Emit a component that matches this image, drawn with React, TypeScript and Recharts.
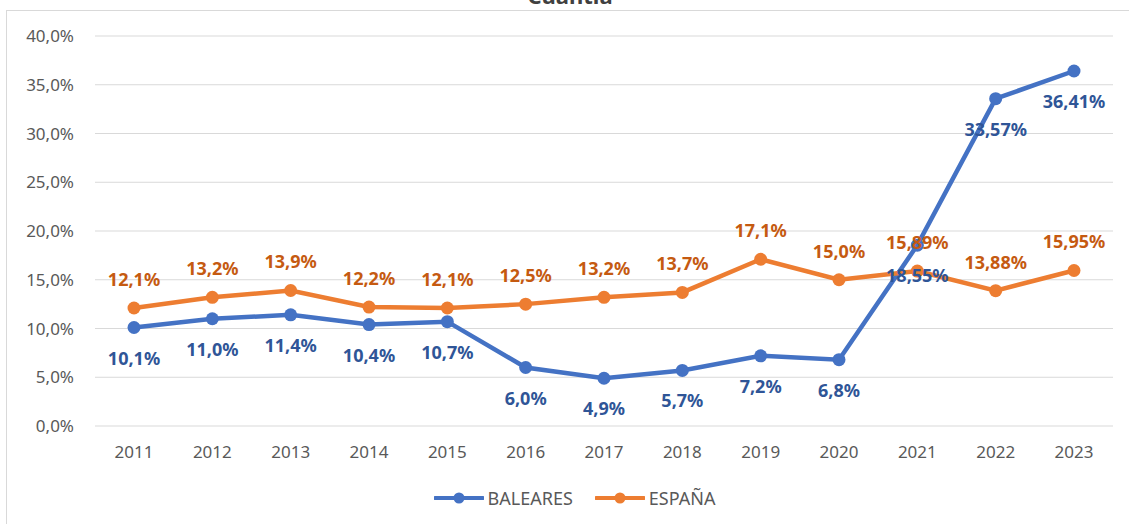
import { LineChart, Line, XAxis, YAxis, CartesianGrid, Legend, LabelList } from 'recharts';

const years = ['2011', '2012', '2013', '2014', '2015', '2016', '2017', '2018', '2019', '2020', '2021', '2022', '2023'];
const baleares = [10.1, 11.0, 11.4, 10.4, 10.7, 6.0, 4.9, 5.7, 7.2, 6.8, 18.55, 33.57, 36.41];
const espana = [12.1, 13.2, 13.9, 12.2, 12.1, 12.5, 13.2, 13.7, 17.1, 15.0, 15.89, 13.88, 15.95];
const decimals = [1, 1, 1, 1, 1, 1, 1, 1, 1, 1, 2, 2, 2];
const yTicks = [0, 5, 10, 15, 20, 25, 30, 35, 40];

const data = years.map((year, i) => ({ year, BALEARES: baleares[i], 'ESPAÑA': espana[i] }));

const BLUE = '#4472C4';
const ORANGE = '#ED7D31';
const FONT = '"Noto Sans", sans-serif';

const fmt = (v: number, d: number) => v.toFixed(d).replace('.', ',') + '%';

function makeLabel(color: string, dy: number) {
  return (props: any) => {
    const { x, y, value, index } = props;
    return (
      <text
        x={x}
        y={y + dy}
        textAnchor="middle"
        dominantBaseline="central"
        fill={color}
        fontFamily={FONT}
        fontWeight={700}
        fontSize={18}
      >
        {fmt(Number(value), decimals[index] ?? 1)}
      </text>
    );
  };
}

function LegendContent() {
  const items = [
    { name: 'BALEARES', color: BLUE },
    { name: 'ESPAÑA', color: ORANGE },
  ];
  return (
    <div style={{ height: 24, display: 'flex', justifyContent: 'center', alignItems: 'center', gap: 22, paddingLeft: 36 }}>
      {items.map((it) => (
        <div key={it.name} style={{ display: 'flex', alignItems: 'center' }}>
          <svg width={50} height={14} style={{ marginRight: 4 }}>
            <line x1={1} y1={7} x2={49} y2={7} stroke={it.color} strokeWidth={4} strokeLinecap="round" />
            <circle cx={25} cy={7} r={5.5} fill={it.color} />
          </svg>
          <span style={{ fontFamily: FONT, fontSize: 18, color: '#595959' }}>{it.name}</span>
        </div>
      ))}
    </div>
  );
}

export default function App() {
  return (
    <div style={{ position: 'absolute', left: 0, top: 0, width: 1129, height: 524, background: '#fff', overflow: 'hidden' }}>
      <svg width={1129} height={20} style={{ position: 'absolute', left: 0, top: 0 }}>
        <text x={570} y={4} textAnchor="middle" fontFamily={FONT} fontWeight={700} fontSize={22} fill="#404040">
          Cuantía
        </text>
      </svg>
      <div
        style={{
          position: 'absolute',
          left: 6,
          top: 10,
          width: 1129,
          height: 524,
          borderLeft: '1.5px solid #D9D9D9',
          borderTop: '1.5px solid #D9D9D9',
        }}
      />
      <div style={{ position: 'absolute', left: 0, top: 0 }}>
        <LineChart width={1129} height={524} data={data} margin={{ top: 36, right: 16, bottom: 14, left: 0 }}>
          <CartesianGrid vertical={false} stroke="#D9D9D9" strokeWidth={1} />
          <XAxis
            dataKey="year"
            axisLine={false}
            tickLine={false}
            height={60}
            tickMargin={14}
            padding={{ left: 39, right: 39 }}
            tick={{ fill: '#595959', fontSize: 17, fontFamily: FONT }}
            interval={0}
          />
          <YAxis
            domain={[0, 40]}
            ticks={yTicks}
            width={95}
            axisLine={false}
            tickLine={false}
            tickMargin={15}
            tickFormatter={(v: number) => fmt(v, 1)}
            tick={{ fill: '#595959', fontSize: 17, fontFamily: FONT }}
          />
          <Legend verticalAlign="bottom" content={() => <LegendContent />} />
          <Line
            dataKey="BALEARES"
            stroke={BLUE}
            strokeWidth={4.5}
            dot={{ r: 6.5, fill: BLUE, stroke: BLUE, strokeWidth: 0 }}
            isAnimationActive={false}
          >
            <LabelList dataKey="BALEARES" content={makeLabel('#2F5597', 30)} />
          </Line>
          <Line
            dataKey="ESPAÑA"
            stroke={ORANGE}
            strokeWidth={4.5}
            dot={{ r: 6.5, fill: ORANGE, stroke: ORANGE, strokeWidth: 0 }}
            isAnimationActive={false}
          >
            <LabelList dataKey="ESPAÑA" content={makeLabel('#C55A11', -29)} />
          </Line>
        </LineChart>
      </div>
    </div>
  );
}
